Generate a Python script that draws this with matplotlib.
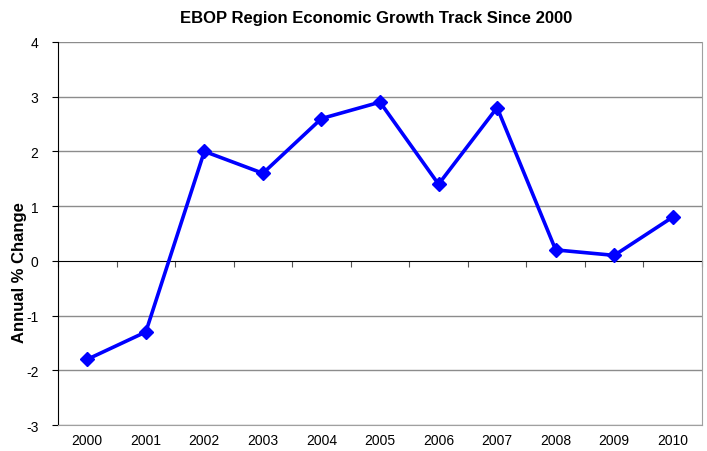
import numpy as np
import matplotlib
matplotlib.use("Agg")
import matplotlib.pyplot as plt

plt.rcParams['font.family'] = ['Liberation Sans', 'DejaVu Sans']

# Data
years = ['2000', '2001', '2002', '2003', '2004', '2005', '2006', '2007', '2008', '2009', '2010']
growth = [-1.8, -1.3, 2.0, 1.6, 2.6, 2.9, 1.4, 2.8, 0.2, 0.1, 0.8]
y_ticks = [-3, -2, -1, 0, 1, 2, 3, 4]

fig = plt.figure(figsize=(7.07, 4.52), dpi=100)
ax = fig.add_axes([0.082, 0.0575, 0.911, 0.8475])

x = np.arange(len(years))
ax.set_xlim(-0.5, len(years) - 0.5)
ax.set_ylim(-3, 4)

# horizontal grid lines
for v in y_ticks:
    if v == 0:
        continue
    ax.axhline(v, color='#8c8c8c', linewidth=1.0, zorder=1)

ax.plot(x, growth, color='#0000ff', linewidth=2.6, marker='D', markersize=7,
        zorder=3, clip_on=False)

# spines
ax.spines['left'].set_color('black')
ax.spines['bottom'].set_color('#a0a0a0')
ax.spines['right'].set_color('#a0a0a0')
ax.spines['top'].set_visible(False)

ax.set_yticks(y_ticks)
ax.set_yticklabels([str(v) for v in y_ticks])
ax.tick_params(axis='y', direction='out', length=4, labelsize=10, pad=10)

ax.set_xticks(x)
ax.set_xticklabels(years)
ax.tick_params(axis='x', length=0, labelsize=10, pad=6)

# zero axis with category boundary ticks
zero_ax = ax.secondary_xaxis(3 / 7)
zero_ax.spines['bottom'].set_color('black')
zero_ax.set_xticks(np.arange(-0.5, len(years), 1.0))
zero_ax.set_xticklabels([])
zero_ax.tick_params(axis='x', direction='out', length=4, color='#555555')

fig.text(20 / 707, 1 - 273 / 452, 'Annual % Change', rotation=90, fontsize=12,
         fontweight='bold', ha='center', va='center')
fig.text(376 / 707, 1 - 18 / 452, 'EBOP Region Economic Growth Track Since 2000',
         fontsize=12, fontweight='bold', ha='center', va='center')

fig.savefig('out.png', dpi=100)
